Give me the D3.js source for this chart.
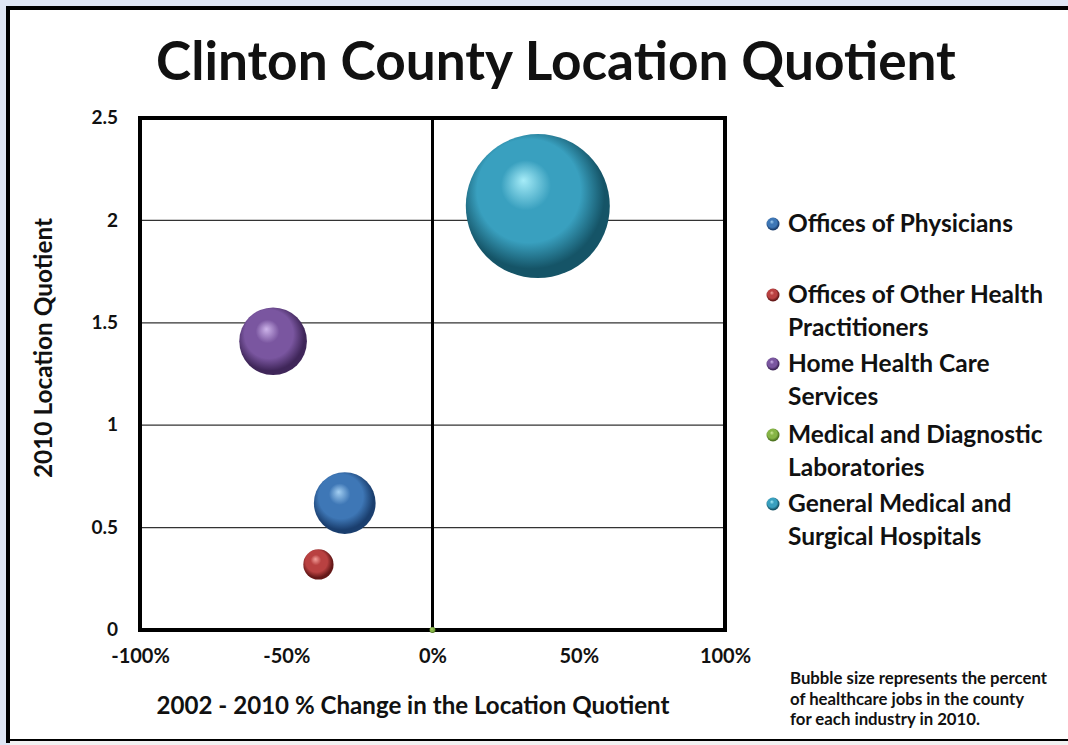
<!DOCTYPE html>
<html><head><meta charset="utf-8">
<script src="https://cdn.jsdelivr.net/npm/d3@7"></script>
<style>
html,body{margin:0;padding:0;background:#dfe6f4;}
svg{display:block;}
text{font-family:Lato,"Open Sans",sans-serif;font-weight:bold;fill:#111;}
</style></head>
<body>
<svg id="chart" width="1068" height="745"></svg>
<script>
// ---- data ----
const industries = ["Offices of Physicians","Offices of Other Health Practitioners","Home Health Care Services","Medical and Diagnostic Laboratories","General Medical and Surgical Hospitals"];
const legendLines = [["Offices of Physicians"],["Offices of Other Health","Practitioners"],["Home Health Care","Services"],["Medical and Diagnostic","Laboratories"],["General Medical and","Surgical Hospitals"]];
const pctChange = [-0.30, -0.39, -0.545, 0.0, 0.36];      // x: 2002-2010 % change in LQ
const lq2010   = [0.62, 0.32, 1.41, 0.0, 2.07];           // y: 2010 location quotient
const jobShare = [12.5, 3.0, 15.0, 0.12, 68.0];           // bubble size: % of healthcare jobs
const xTicks = [-1, -0.5, 0, 0.5, 1];
const xTickLabels = ["-100%","-50%","0%","50%","100%"];
const yTicks = [0, 0.5, 1, 1.5, 2, 2.5];
const yTickLabels = ["0","0.5","1","1.5","2","2.5"];
const colors = [
  {base:"#3e77b6", light:"#a3cff2", dark:"#1a3e6e"},
  {base:"#b94141", light:"#f4a09b", dark:"#651818"},
  {base:"#7a56a0", light:"#cdb4ea", dark:"#3f2659"},
  {base:"#86b446", light:"#cfe99a", dark:"#4d7420"},
  {base:"#39a0bf", light:"#a6ecf8", dark:"#155467"}
];
const title = "Clinton County Location Quotient";
const xTitle = "2002 - 2010 % Change in the Location Quotient";
const yTitle = "2010 Location Quotient";
const noteLines = ["Bubble size represents the percent","of healthcare jobs in the county","for each industry in 2010."];

// ---- layout ----
const svg = d3.select("#chart");
const L = 140, R = 725, T = 118, B = 630;
const x = d3.scaleLinear().domain([-1, 1]).range([L, R]);
const y = d3.scaleLinear().domain([0, 2.5]).range([B, T]);
const r = d3.scaleSqrt().domain([0, 68]).range([0, 72]);

function fit(sel, w) {
  sel.each(function(){
    const t = d3.select(this);
    let fs = +t.attr("font-size");
    const len = this.getComputedTextLength();
    if (len > 0) t.attr("font-size", (fs * w / len).toFixed(2));
  });
  return sel;
}

// panel
svg.append("rect").attr("x", 0).attr("y", 0).attr("width", 1068).attr("height", 745).attr("fill", "#dfe6f4");
svg.append("rect").attr("x", 8).attr("y", 8).attr("width", 1080).attr("height", 733)
  .attr("fill", "#fff").attr("stroke", "#000").attr("stroke-width", 4);
svg.append("rect").attr("x", 10).attr("y", 741).attr("width", 1060).attr("height", 4).attr("fill", "#f2f2f2");

// gradients
const defs = svg.append("defs");
colors.forEach((c, i) => {
  const g = defs.append("radialGradient").attr("id", "g" + i)
    .attr("cx", "46%").attr("cy", "44%").attr("r", "58%")
    .attr("fx", "40%").attr("fy", "32%");
  g.append("stop").attr("offset", "0%").attr("stop-color", c.light);
  g.append("stop").attr("offset", "30%").attr("stop-color", c.base);
  g.append("stop").attr("offset", "62%").attr("stop-color", c.base);
  g.append("stop").attr("offset", "88%").attr("stop-color", c.dark);
  g.append("stop").attr("offset", "100%").attr("stop-color", c.dark);
});

// title
fit(svg.append("text").attr("x", 556).attr("y", 80).attr("text-anchor", "middle")
  .attr("font-size", 50).text(title), 800);

// gridlines
svg.append("g").selectAll("line").data(yTicks.filter(v => v > 0 && v < 2.5)).join("line")
  .attr("x1", L).attr("x2", R).attr("y1", d => y(d)).attr("y2", d => y(d))
  .attr("stroke", "#333").attr("stroke-width", 1.3);

// axes via d3
const yAxis = svg.append("g").attr("transform", `translate(${L},0)`)
  .call(d3.axisLeft(y).tickValues(yTicks).tickFormat((d, i) => yTickLabels[i]).tickSize(0).tickPadding(22));
yAxis.select(".domain").remove();
yAxis.selectAll("text").attr("font-size", 19).attr("font-family", "Lato,sans-serif").attr("font-weight", "bold").attr("fill", "#111").attr("dy", "0.3em");

const xAxis = svg.append("g").attr("transform", `translate(0,${B})`)
  .call(d3.axisBottom(x).tickValues(xTicks).tickFormat((d, i) => xTickLabels[i]).tickSize(0).tickPadding(19));
xAxis.select(".domain").remove();
xAxis.selectAll("text").attr("font-size", 20).attr("font-family", "Lato,sans-serif").attr("font-weight", "bold").attr("fill", "#111");

// zero line
svg.append("line").attr("x1", x(0)).attr("x2", x(0)).attr("y1", T).attr("y2", B)
  .attr("stroke", "#000").attr("stroke-width", 3);

// plot frame
svg.append("rect").attr("x", L).attr("y", T).attr("width", R - L).attr("height", B - T)
  .attr("fill", "none").attr("stroke", "#000").attr("stroke-width", 4);

// bubbles
const data = industries.map((n, i) => ({n, x: pctChange[i], y: lq2010[i], s: jobShare[i], i}));
svg.append("g").selectAll("circle").data(data.slice().sort((a, b) => b.s - a.s)).join("circle")
  .attr("cx", d => x(d.x)).attr("cy", d => y(d.y)).attr("r", d => Math.max(3, r(d.s)))
  .attr("fill", d => `url(#g${d.i})`);

// axis titles
fit(svg.append("text").attr("x", 413).attr("y", 714).attr("text-anchor", "middle")
  .attr("font-size", 21).text(xTitle), 513);
fit(svg.append("text").attr("transform", "translate(52,348) rotate(-90)").attr("text-anchor", "middle")
  .attr("font-size", 20).text(yTitle), 260);

// legend
const legY = [224, 295, 364, 435, 504];
const lg = svg.append("g");
legendLines.forEach((lines, i) => {
  lg.append("circle").attr("cx", 773).attr("cy", legY[i]).attr("r", 6.5).attr("fill", `url(#g${i})`);
  lines.forEach((ln, j) => {
    lg.append("text").attr("class", "leg").attr("x", 788).attr("y", legY[i] + 8 + j * 33)
      .attr("font-size", 21).text(ln);
  });
});
const first = lg.select("text.leg").node();
const lf = 21 * 225 / first.getComputedTextLength();
lg.selectAll("text.leg").attr("font-size", lf.toFixed(2));

// note
const note = svg.append("g");
noteLines.forEach((ln, j) => {
  note.append("text").attr("class", "note").attr("x", 790).attr("y", 684 + j * 20.5).attr("font-size", 14).text(ln);
});
const nf = 14 * 257 / note.select("text.note").node().getComputedTextLength();
note.selectAll("text.note").attr("font-size", nf.toFixed(2));
</script>
</body></html>
